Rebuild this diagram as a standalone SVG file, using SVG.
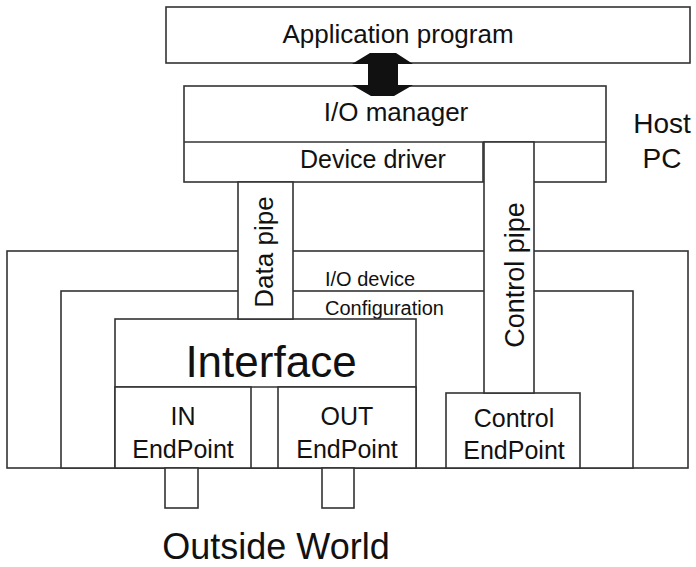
<svg xmlns="http://www.w3.org/2000/svg" width="696" height="567" viewBox="0 0 696 567">
  <style>
    .box { fill: #ffffff; stroke: #333333; stroke-width: 1.6; }
    .ln { fill: none; stroke: #333333; stroke-width: 1.6; }
    text { font-family: "Liberation Sans", Arial, sans-serif; fill: #111111; }
    .mid { text-anchor: middle; }
  </style>
  <rect width="696" height="567" fill="#ffffff"/>

  <!-- host side -->
  <g id="application">
    <rect class="box" x="166" y="7" width="524" height="56"/>
    <text class="mid" x="398" y="43" font-size="26">Application program</text>
  </g>
  <g id="io-manager">
    <rect class="box" x="184" y="86" width="422" height="96"/>
    <line class="ln" x1="184" y1="142" x2="606" y2="142"/>
    <text class="mid" x="396" y="121" font-size="26">I/O manager</text>
  </g>
  <g id="device-driver">
    <line class="ln" x1="483" y1="142" x2="483" y2="182"/>
    <text class="mid" x="373" y="168" font-size="25">Device driver</text>
  </g>
  <g id="host-pc">
    <text class="mid" x="662" y="133" font-size="28">Host</text>
    <text class="mid" x="662" y="168" font-size="28">PC</text>
  </g>

  <!-- device side -->
  <g id="io-device">
    <rect class="box" x="7" y="251" width="681" height="217"/>
    <text x="325" y="286" font-size="20">I/O device</text>
  </g>
  <g id="configuration">
    <rect class="box" x="61" y="291" width="572" height="177"/>
    <text x="325" y="315" font-size="20">Configuration</text>
  </g>
  <g id="interface">
    <rect class="box" x="115" y="319" width="301" height="149"/>
    <line class="ln" x1="115" y1="387" x2="416" y2="387"/>
    <text class="mid" x="271" y="377" font-size="44">Interface</text>
  </g>
  <g id="in-endpoint">
    <rect class="box" x="115" y="387" width="136" height="81"/>
    <text class="mid" x="183" y="425" font-size="25">IN</text>
    <text class="mid" x="183" y="458" font-size="25">EndPoint</text>
  </g>
  <g id="out-endpoint">
    <rect class="box" x="278" y="387" width="138" height="81"/>
    <text class="mid" x="347" y="425" font-size="25">OUT</text>
    <text class="mid" x="347" y="458" font-size="25">EndPoint</text>
  </g>
  <g id="control-endpoint">
    <rect class="box" x="446" y="393" width="134" height="75"/>
    <text class="mid" x="514" y="427" font-size="25">Control</text>
    <text class="mid" x="514" y="459" font-size="25">EndPoint</text>
  </g>
  <g id="in-port">
    <rect class="box" x="165" y="468" width="33" height="40"/>
  </g>
  <g id="out-port">
    <rect class="box" x="322" y="468" width="32" height="40"/>
  </g>
  <g id="outside-world">
    <text class="mid" x="276" y="559" font-size="36">Outside World</text>
  </g>

  <!-- pipes and the call arrow -->
  <g id="connectors">
    <g id="data-pipe">
      <rect class="box" x="238" y="182" width="55" height="137"/>
      <text class="mid" transform="translate(273 252) rotate(-90)" font-size="26">Data pipe</text>
    </g>
    <g id="control-pipe">
      <rect class="box" x="484" y="142" width="50" height="251"/>
      <text class="mid" transform="translate(524 275) rotate(-90)" font-size="27">Control pipe</text>
    </g>
    <path id="call-arrow" fill="#111111" d="M370 53 L396 53 L413 64 L398 64 L398 85 L413 85 L394 96 L371 96 L352 85 L368 85 L368 64 L352 64 Z"/>
  </g>
</svg>
